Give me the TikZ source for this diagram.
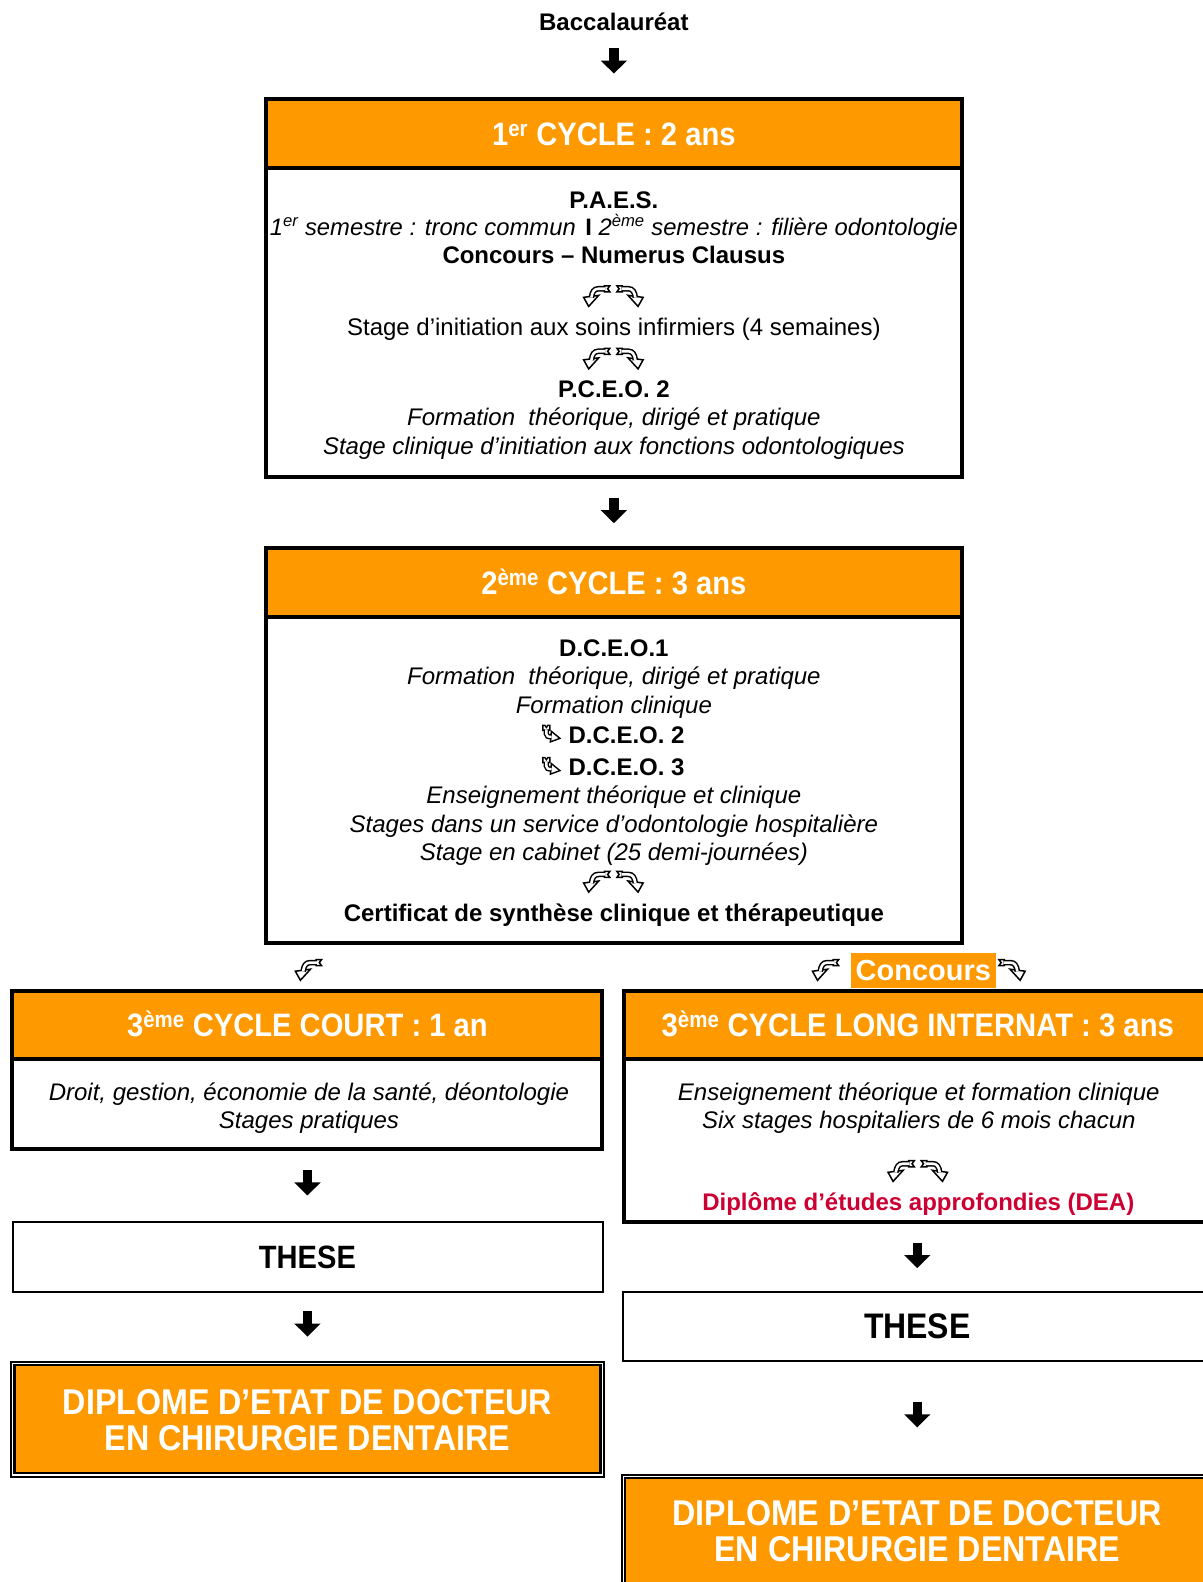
\documentclass[tikz,border=0pt]{standalone}
\usepackage{fontspec}
\setmainfont{Liberation Sans}
\newfontfamily\hfont[FakeStretch=0.9]{Liberation Sans}
\usetikzlibrary{arrows.meta,fit}
\definecolor{orng}{RGB}{255,153,0}
\definecolor{crim}{RGB}{204,0,51}
\tikzset{
  every node/.style={inner sep=0pt, outer sep=0pt},
  body/.style={anchor=base, font=\fontsize{24}{28}\selectfont},
  bodyb/.style={anchor=base, font=\fontsize{24}{28}\selectfont\bfseries},
  bodyi/.style={anchor=base, font=\fontsize{24}{28}\selectfont\itshape},
  hdr/.style={anchor=base, text=white, font=\hfont\bfseries\fontsize{32.4}{36}\selectfont},
  diptext/.style={anchor=base, text=white, font=\hfont\bfseries\fontsize{35.8}{40}\selectfont},
  thesetext/.style={anchor=base, font=\hfont\bfseries\fontsize{32.3}{36}\selectfont},
  cyclebox/.style={draw, line width=4pt},
  hband/.style={draw, fill=orng, line width=4pt},
  thinbox/.style={draw, line width=2pt},
  dipout/.style={draw, line width=2pt},
  dipin/.style={draw, fill=orng, line width=2.2pt},
  bigarr/.style={line width=9.5pt, -{Triangle[length=13pt,width=25.5pt]}},
  curlglyph/.pic={
    \filldraw[fill=white, line width=1.5pt, line join=miter] (7,-10) -- (12.5,-10) -- (10.3,-7) -- (12.5,-4) -- (7,-4) -- cycle;
    \filldraw[fill=white, line width=1.5pt, line join=miter] (-13.5,1.5) -- (1.5,-0.5) -- (-8.5,10.5) -- cycle;
    \draw[line width=1.5pt, double=white, double distance=2.6pt] (7.9,-7) -- (1,-7) .. controls (-3,-7) and (-5,-4) .. (-5.8,1.6);
  },
  hookglyph/.pic={
    \filldraw[fill=white, line width=1.4pt, line join=miter] (-8.5,-8.5) -- (-6.5,-8.5) -- (-5,-6.3) -- (-3.5,-8.5) -- (-1.5,-8.5) -- (-1.5,-3.5) -- (-8.5,-3.5) -- cycle;
    \filldraw[fill=white, line width=1.4pt, line join=miter] (0,-2.5) -- (-1,8) -- (8.5,4.5) -- cycle;
    \draw[line width=1.4pt, double=white, double distance=2.4pt] (-5,-4.3) -- (-5,0) .. controls (-5,2.5) and (-3,3) .. (0.2,3);
  }
}
\begin{document}
\begin{tikzpicture}[x=1.008pt,y=-1.008pt]
\fill[white] (0pt,0pt) rectangle (1202pt,-1582pt);

% Baccalaureat
\node[bodyb] (bac) at (609,30.5) {Baccalauréat};
\coordinate (a0s) at (609,48); \coordinate (a0e) at (609,73);
\draw[bigarr] (a0s) -- (a0e);

% ---------- 1er cycle
\node[cyclebox, fit={(264,98) (954,473)}] (c1) {};
\node[hband, fit={(264,98) (954,166.5)}] (c1h) {};
\node[hdr] (c1t) at (609,144.5) {1\textsuperscript{er} CYCLE : 2 ans};
\node[bodyb] (paes) at (609,207) {P.A.E.S.};
\node[bodyi, font=\fontsize{23.8}{28}\selectfont\itshape] (sem) at (609,233.5) {1\textsuperscript{er} semestre : tronc commun\hspace{3pt} \textbf{\upshape I} 2\textsuperscript{ème} semestre : filière odontologie};
\node[bodyb] (nc) at (609,261.5) {Concours – Numerus Clausus};
\pic at (592.5,293.5) {curlglyph};
\pic[xscale=-1] at (624.5,293.5) {curlglyph};
\node[body] (stage1) at (609,332.5) {Stage d’initiation aux soins infirmiers (4 semaines)};
\pic at (592.5,355.5) {curlglyph};
\pic[xscale=-1] at (624.5,355.5) {curlglyph};
\node[bodyb] (pceo) at (609,394.5) {P.C.E.O. 2};
\node[bodyi] (form1) at (609,422.5) {Formation\ \ théorique, dirigé et pratique};
\node[bodyi] (stclin) at (609,450.5) {Stage clinique d’initiation aux fonctions odontologiques};

\coordinate (a1s) at (609,494); \coordinate (a1e) at (609,519);
\draw[bigarr] (a1s) -- (a1e);

% ---------- 2eme cycle
\node[cyclebox, fit={(264,544) (954,936)}] (c2) {};
\node[hband, fit={(264,544) (954,612)}] (c2h) {};
\node[hdr] (c2t) at (609,589.5) {2\textsuperscript{ème} CYCLE : 3 ans};
\node[bodyb] (dceo1) at (609,651.5) {D.C.E.O.1};
\node[bodyi] (form2) at (609,679.5) {Formation\ \ théorique, dirigé et pratique};
\node[bodyi] (formclin) at (609,707.5) {Formation clinique};
\pic at (547,728) {hookglyph};
\node[bodyb, anchor=base west] (dceo2) at (564,737.5) {D.C.E.O. 2};
\pic at (547,760) {hookglyph};
\node[bodyb, anchor=base west] (dceo3) at (564,769.5) {D.C.E.O. 3};
\node[bodyi] (ens) at (609,797.5) {Enseignement théorique et clinique};
\node[bodyi] (stserv) at (609,825.5) {Stages dans un service d’odontologie hospitalière};
\node[bodyi] (stcab) at (609,853.5) {Stage en cabinet (25 demi-journées)};
\pic at (592.5,874.5) {curlglyph};
\pic[xscale=-1] at (624.5,874.5) {curlglyph};
\node[bodyb] (cert) at (609,914.5) {Certificat de synthèse clinique et thérapeutique};

% ---------- between
\pic at (306.5,962) {curlglyph};
\pic at (819.5,962) {curlglyph};
\node[fill=orng, minimum width=145pt, minimum height=35pt, text=white, font=\fontsize{29}{32}\selectfont\bfseries] (conc) at (916,962.5) {Concours};
\pic[xscale=-1] at (1003.5,962) {curlglyph};

% ---------- 3eme cycle court
\node[cyclebox, fit={(12,983) (597,1140)}] (c3l) {};
\node[hband, fit={(12,983) (597,1051)}] (c3lh) {};
\node[hdr] (c3lt) at (305,1028.5) {3\textsuperscript{ème} CYCLE COURT : 1 an};
\node[bodyi] (droit) at (306.5,1091.5) {Droit, gestion, économie de la santé, déontologie};
\node[bodyi] (stpra) at (306.5,1119.5) {Stages pratiques};

\coordinate (a2s) at (305,1161); \coordinate (a2e) at (305,1186);
\draw[bigarr] (a2s) -- (a2e);

\node[thinbox, fit={(13,1212) (598,1282)}] (thl) {};
\node[thesetext] (thlt) at (305,1258) {THESE};

\coordinate (a3s) at (305,1301); \coordinate (a3e) at (305,1326);
\draw[bigarr] (a3s) -- (a3e);

\node[dipout, fit={(11,1351) (599,1465)}] (dlo) {};
\node[dipin, fit={(14.3,1354.5) (595.7,1461.5)}] (dl) {};
\node[diptext] (dlt1) at (305,1403) {DIPLOME D’ETAT DE DOCTEUR};
\node[diptext] (dlt2) at (305,1439) {EN CHIRURGIE DENTAIRE};

% ---------- 3eme cycle long
\node[cyclebox, fit={(619,983) (1206,1212)}] (c3r) {};
\node[hband, fit={(619,983) (1206,1051)}] (c3rh) {};
\node[hdr, font=\hfont\bfseries\fontsize{32.5}{36}\selectfont] (c3rt) at (910.5,1028.5) {3\textsuperscript{ème} CYCLE LONG INTERNAT : 3 ans};
\node[bodyi] (ensr) at (911.5,1091.5) {Enseignement théorique et formation clinique};
\node[bodyi] (sixst) at (911.5,1119.5) {Six stages hospitaliers de 6 mois chacun};
\pic at (894.5,1161.5) {curlglyph};
\pic[xscale=-1] at (926.5,1161.5) {curlglyph};
\node[bodyb, text=crim] (dea) at (911,1200.5) {Diplôme d’études approfondies (DEA)};

\coordinate (a4s) at (910,1233); \coordinate (a4e) at (910,1258);
\draw[bigarr] (a4s) -- (a4e);

\node[thinbox, fit={(618,1282) (1208,1350)}] (thr) {};
\node[thesetext, font=\hfont\bfseries\fontsize{35.5}{38}\selectfont] (thrt) at (910,1328) {THESE};

\coordinate (a5s) at (910,1391); \coordinate (a5e) at (910,1416);
\draw[bigarr] (a5s) -- (a5e);

\node[dipout, fit={(617,1463) (1215,1600)}] (dro) {};
\node[dipin, fit={(620.3,1466.5) (1212,1597)}] (dr) {};
\node[diptext] (drt1) at (910,1513) {DIPLOME D’ETAT DE DOCTEUR};
\node[diptext] (drt2) at (910,1549) {EN CHIRURGIE DENTAIRE};

\pgfresetboundingbox
\useasboundingbox (0pt,0pt) rectangle (1202pt,-1582pt);
\end{tikzpicture}
\end{document}
